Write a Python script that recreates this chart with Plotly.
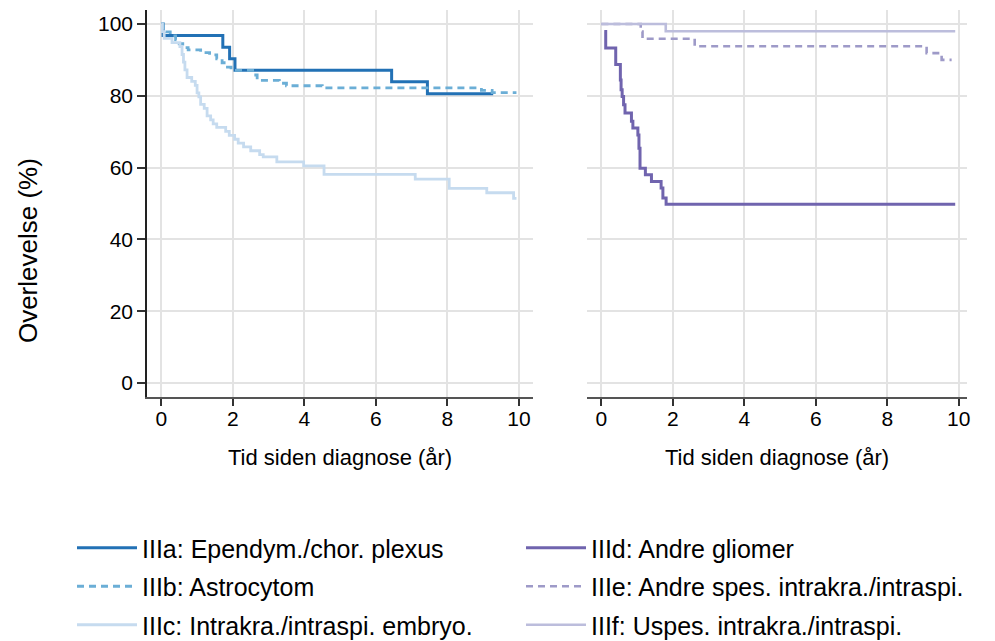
import plotly.graph_objects as go

# Kaplan-Meier survival estimates (time in years, survival in %)
t_IIIa = [0, 0.05, 1.72, 1.91, 2.06, 6.44, 7.44, 9.28]
s_IIIa = [100, 96.8, 93.5, 90.3, 87.1, 83.9, 80.6, 80.6]

t_IIIb = [0, 0.05, 0.12, 0.25, 0.40, 0.50, 0.60, 0.75, 1.10, 1.35, 1.55, 1.70,
          1.85, 1.95, 2.60, 2.68, 3.30, 3.50, 4.50, 8.95, 9.25, 9.93]
s_IIIb = [100, 98.9, 97.8, 96.7, 95.6, 94.5, 93.4, 92.8, 92.0, 91.4, 90.3, 89.2,
          88.0, 87.1, 85.8, 84.3, 83.5, 82.8, 82.2, 81.5, 80.9, 80.9]

t_IIIc = [0, 0.03, 0.08, 0.30, 0.52, 0.58, 0.62, 0.66, 0.72, 0.85, 0.95, 1.00,
          1.05, 1.10, 1.20, 1.28, 1.38, 1.45, 1.55, 1.80, 1.90, 2.05, 2.15, 2.30,
          2.50, 2.75, 2.85, 3.23, 3.98, 4.55, 7.10, 8.05, 9.10, 9.85, 9.93]
s_IIIc = [100, 97.9, 96.0, 94.8, 93.7, 91.5, 89.4, 87.2, 85.1, 84.0, 82.9, 80.8,
          79.7, 77.6, 76.5, 74.4, 73.3, 72.2, 71.2, 70.1, 69.0, 67.9, 66.8, 65.8,
          64.7, 63.6, 63.0, 61.6, 60.5, 58.1, 56.8, 54.2, 53.0, 51.4, 51.4]

t_IIId = [0.08, 0.12, 0.40, 0.53, 0.55, 0.58, 0.62, 0.66, 0.84, 0.88, 1.02, 1.05,
          1.08, 1.23, 1.40, 1.67, 1.72, 1.81, 9.90]
s_IIId = [97.9, 93.3, 88.7, 84.4, 81.7, 79.8, 77.5, 75.2, 72.9, 71.0, 69.1, 65.4,
          59.8, 58.0, 56.1, 54.3, 51.5, 49.8, 49.8]

t_IIIe = [0, 1.10, 1.15, 2.61, 9.10, 9.52, 9.80]
s_IIIe = [100, 97.9, 95.9, 93.8, 91.9, 90.0, 90.0]

t_IIIf = [0, 1.80, 9.90]
s_IIIf = [100, 98.0, 98.0]

names_left = ["IIIa: Ependym./chor. plexus", "IIIb: Astrocytom",
              "IIIc: Intrakra./intraspi. embryo."]
names_right = ["IIId: Andre gliomer", "IIIe: Andre spes. intrakra./intraspi.",
               "IIIf: Uspes. intrakra./intraspi."]

x_ticks = [0, 2, 4, 6, 8, 10]
y_ticks = [0, 20, 40, 60, 80, 100]
x_title = "Tid siden diagnose (år)"
y_title = "Overlevelse (%)"

FONT = "Liberation Sans, Arial, sans-serif"
W, H = 995, 641
L, R, T, B = 147, 27.5, 10, 244
PW = W - L - R
PH = H - T - B

fig = go.Figure()

left = [(t_IIIa, s_IIIa, "#2271b5", "solid", 3),
        (t_IIIb, s_IIIb, "#6baed6", "7px,5px", 2.8),
        (t_IIIc, s_IIIc, "#c6dbef", "solid", 2.8)]
right = [(t_IIId, s_IIId, "#7064ae", "solid", 3),
         (t_IIIe, s_IIIe, "#9e9ac8", "7px,5px", 2.6),
         (t_IIIf, s_IIIf, "#bcbddc", "solid", 2.6)]

for i, (t, s, c, d, w) in enumerate(left):
    fig.add_trace(go.Scatter(x=t, y=s, mode="lines", name=names_left[i],
                             line=dict(color=c, dash=d, width=w, shape="hv"),
                             xaxis="x", yaxis="y", legend="legend",
                             legendgroup=f"l{i}"))
for i, (t, s, c, d, w) in enumerate(right):
    fig.add_trace(go.Scatter(x=t, y=s, mode="lines", name=names_right[i],
                             line=dict(color=c, dash=d, width=w, shape="hv"),
                             xaxis="x2", yaxis="y2", legend="legend2",
                             legendgroup=f"r{i}"))

grid = "#e3e3e3"
tickfont = dict(family=FONT, size=21, color="#000")
common_x = dict(tickvals=x_ticks, ticks="outside", ticklen=7, tickwidth=1.5,
                tickcolor="#333", showgrid=True, gridcolor=grid, gridwidth=1.5,
                showline=True, linecolor="#555", linewidth=2, zeroline=False,
                tickfont=tickfont, ticklabelstandoff=-5)

legend_common = dict(xref="container", yref="container", y=1 - 525 / H,
                     xanchor="left", yanchor="top", itemwidth=60,
                     tracegroupgap=3,
                     font=dict(family=FONT, size=25, color="#000"),
                     bgcolor="rgba(0,0,0,0)")

fig.update_layout(
    width=W, height=H,
    margin=dict(l=L, r=R, t=T, b=B, autoexpand=False),
    plot_bgcolor="white", paper_bgcolor="white",
    xaxis=dict(domain=[0, 386.5 / PW], range=[-0.4, 10.4], anchor="y", **common_x),
    xaxis2=dict(domain=[(587.4 - L) / PW, 1.0], range=[-0.4, 10.23], anchor="y2", **common_x),
    yaxis=dict(range=[-3.9, 103.9], tickvals=y_ticks, ticks="outside", ticklen=8,
               tickwidth=1.5, tickcolor="#333", showgrid=True, gridcolor=grid,
               gridwidth=1.5, showline=True, linecolor="#222", linewidth=1.5,
               zeroline=False, tickfont=tickfont, anchor="x"),
    yaxis2=dict(range=[-3.9, 103.9], tickvals=y_ticks, showticklabels=False,
                ticks="", showgrid=True, gridcolor=grid, gridwidth=1.5,
                showline=False, zeroline=False, anchor="x2"),
    legend=dict(x=72 / W, **legend_common),
    legend2=dict(x=521 / W, **legend_common),
    showlegend=True,
)

# Axis titles
fig.add_annotation(text=y_title, xref="paper", yref="paper",
                   x=(28 - L) / PW, y=(H - B - 251) / PH, textangle=-90,
                   showarrow=False, xanchor="center", yanchor="middle",
                   font=dict(family=FONT, size=26, color="#000"))
for cx in (340, 777):
    fig.add_annotation(text=x_title, xref="paper", yref="paper",
                       x=(cx - L) / PW, y=(H - B - 457) / PH,
                       showarrow=False, xanchor="center", yanchor="middle",
                       font=dict(family=FONT, size=22, color="#000"))

fig.write_html("out.html")
